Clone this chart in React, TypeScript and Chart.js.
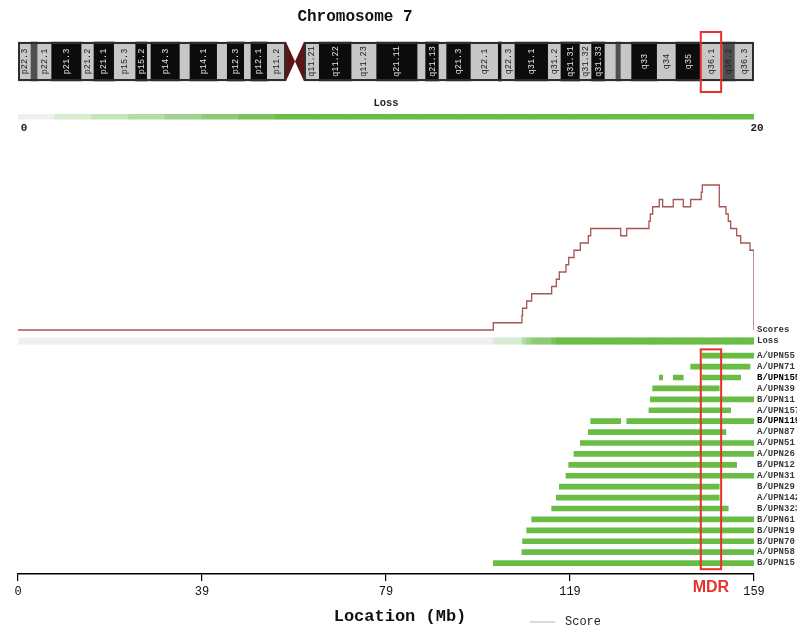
import React, { useEffect, useRef } from 'react';
import { Chart, registerables } from 'chart.js';

Chart.register(...registerables);

// ---------------- data ----------------
const CHR_MAX = 159;
const xTickValues = [0, 39.75, 79.5, 119.25, 159];
const xTickLabels = ['0', '39', '79', '119', '159'];

const bandLabels = ['p22.3', '', 'p22.1', 'p21.3', 'p21.2', 'p21.1', 'p15.3', 'p15.2', '', 'p14.3', '', 'p14.1', '', 'p12.3', '', 'p12.1', 'p11.2', '', '',
  'q11.21', 'q11.22', 'q11.23', 'q21.11', '', 'q21.13', '', 'q21.3', 'q22.1', '', 'q22.3', 'q31.1', 'q31.2', 'q31.31', 'q31.32', 'q31.33', '', '', '',
  'q33', 'q34', 'q35', 'q36.1', 'q36.2', 'q36.3'];
const bandStart = [0, 2.81, 4.26, 7.28, 13.76, 16.42, 20.80, 25.43, 27.93, 28.73, 35.00, 37.16, 43.05, 45.21, 48.89, 50.33, 53.86, 57.90, 59.84,
  61.78, 65.09, 72.09, 77.49, 86.35, 88.07, 90.95, 92.61, 97.86, 103.76, 104.49, 107.37, 114.56, 117.30, 121.41, 123.93, 126.81, 129.18, 130.26,
  132.57, 138.10, 142.15, 147.55, 152.24, 154.90];
const bandEnd = [2.81, 4.26, 7.28, 13.76, 16.42, 20.80, 25.43, 27.93, 28.73, 35.00, 37.16, 43.05, 45.21, 48.89, 50.33, 53.86, 57.90, 59.84, 61.78,
  65.09, 72.09, 77.49, 86.35, 88.07, 90.95, 92.61, 97.86, 103.76, 104.49, 107.37, 114.56, 117.30, 121.41, 123.93, 126.81, 129.18, 130.26, 132.57,
  138.10, 142.15, 147.55, 152.24, 154.90, 159];
const bandStain = ['light', 'gray', 'light', 'dark', 'light', 'dark', 'light', 'dark', 'light', 'dark', 'light', 'dark', 'light', 'dark', 'light', 'dark', 'light', 'acen', 'acen',
  'light', 'dark', 'light', 'dark', 'light', 'dark', 'light', 'dark', 'light', 'dark', 'light', 'dark', 'light', 'dark', 'light', 'dark', 'light', 'gray', 'light',
  'dark', 'light', 'dark', 'light', 'gray', 'light'];

const legendCells = [0, 1, 2, 3, 4, 5, 6, 7, 8, 9, 10, 11, 12, 13, 14, 15, 16, 17, 18, 19];
const legendMax = 20;

const scoreStart = [0, 102.68, 108.86, 109.0, 109.89, 110.97, 115.29, 116.29, 116.94, 118.38, 118.97, 120.11, 121.47, 123.2, 123.72, 130.2, 131.5,
  136.31, 136.6, 137.11, 138.54, 139.27, 141.56, 143.72, 145.32, 147.6, 147.83, 151.5, 152.94, 153.44, 153.96, 155.26, 156.12, 158.13, 159];
const scoreValue = [0, 1, 2, 3, 4, 5, 6, 7, 8, 9, 10, 11, 12, 13, 14, 13, 14,
  15, 16, 17, 18, 17, 18, 17, 18, 19, 20, 17, 16, 15, 14, 13, 12, 11, 0];

const sampleLabels = ['A/UPN55', 'A/UPN71', 'B/UPN155', 'A/UPN39', 'B/UPN11', 'A/UPN157', 'B/UPN119', 'A/UPN87', 'A/UPN51', 'A/UPN26',
  'B/UPN12', 'A/UPN31', 'B/UPN29', 'A/UPN142', 'B/UPN323', 'B/UPN61', 'B/UPN19', 'B/UPN70', 'A/UPN58', 'B/UPN15'];
const sampleEmphasis = [false, false, true, false, false, false, true, false, false, false,
  false, false, false, false, false, false, false, false, false, false];
const lossSegments: number[][][] = [
  [[147.83, 159]],
  [[145.32, 158.13]],
  [[138.54, 139.27], [141.56, 143.72], [147.83, 156.12]],
  [[137.11, 151.5]],
  [[136.6, 159]],
  [[136.31, 153.96]],
  [[123.72, 130.2], [131.5, 159]],
  [[123.2, 152.94]],
  [[121.47, 159]],
  [[120.11, 159]],
  [[118.97, 155.26]],
  [[118.38, 159]],
  [[116.94, 151.5]],
  [[116.29, 151.5]],
  [[115.29, 153.44]],
  [[110.97, 159]],
  [[109.89, 159]],
  [[109.0, 159]],
  [[108.86, 159]],
  [[102.68, 159]],
];

const mdrStart = 147.5;
const mdrEnd = 151.9;

// ---------------- styles ----------------
const MONO = '"Liberation Mono", "DejaVu Sans Mono", monospace';
const stainColor: Record<string, string> = { light: '#c7c7c7', dark: '#0c0c0c', gray: '#4f4f4f', acen: 'rgba(0,0,0,0)' };
const stainText: Record<string, string> = { light: '#1c1c1c', dark: '#e4e4e4', gray: '#1c1c1c', acen: '#000' };
const lossPalette = ['#efefef', '#d7ecd0', '#c6e4ba', '#b3dba3', '#9fd28c', '#8ccb76', '#78c35e', '#69bd45'];
const GREEN = '#69bd45';
const RED = '#e8312b';
const IDEO_THICK = 39;
const RIGHT_GUTTER = 43;

const paletteFor = (v: number) => lossPalette[Math.min(v, lossPalette.length - 1)];

const rightAxis = (weight: number, extra: any = {}) => ({
  type: 'linear',
  axis: 'y',
  position: 'right',
  stack: 'tracks',
  stackWeight: weight,
  offset: false,
  grid: { display: false, drawTicks: false, offset: false },
  border: { display: false },
  ticks: { display: false },
  afterFit: (s: any) => { s.width = RIGHT_GUTTER; },
  ...extra,
});

const trackLabelTicks = (label: string) => ({
  display: true,
  padding: 3,
  autoSkip: false,
  color: '#333',
  font: { family: MONO, size: 9, weight: 'bold' },
  callback: () => label,
});

const decorations = {
  id: 'decorations',
  afterDatasetsDraw(chart: any) {
    const { ctx, chartArea, scales } = chart;
    const xs = scales.x;
    const yIdeo = scales.yIdeo;
    const yLeg = scales.yLeg;
    const xLeg = scales.xLeg;
    const yRows = scales.yRows;
    const midX = (chartArea.left + chartArea.right) / 2;

    ctx.save();
    // ---- ideogram ----
    const cy = yIdeo.getPixelForValue(0);
    const top = cy - IDEO_THICK / 2;
    const bottom = cy + IDEO_THICK / 2;
    const acen = bandStain.map((s, i) => (s === 'acen' ? i : -1)).filter((i) => i >= 0);
    const cenStart = xs.getPixelForValue(bandStart[acen[0]]);
    const cenMid = xs.getPixelForValue(bandEnd[acen[0]]);
    const cenEnd = xs.getPixelForValue(bandEnd[acen[acen.length - 1]]);
    const x0 = xs.getPixelForValue(bandStart[0]);
    const x1 = xs.getPixelForValue(bandEnd[bandEnd.length - 1]);

    ctx.fillStyle = '#5b1515';
    ctx.beginPath();
    ctx.moveTo(cenStart, top); ctx.lineTo(cenMid, cy); ctx.lineTo(cenStart, bottom); ctx.closePath(); ctx.fill();
    ctx.beginPath();
    ctx.moveTo(cenEnd, top); ctx.lineTo(cenMid, cy); ctx.lineTo(cenEnd, bottom); ctx.closePath(); ctx.fill();

    ctx.strokeStyle = '#2e2e2e';
    ctx.lineWidth = 2;
    ctx.strokeRect(x0 + 1, top + 1, cenStart - x0 - 2, IDEO_THICK - 2);
    ctx.strokeRect(cenEnd + 1, top + 1, x1 - cenEnd - 2, IDEO_THICK - 2);

    ctx.font = `8.5px ${MONO}`;
    ctx.textAlign = 'center';
    ctx.textBaseline = 'middle';
    bandLabels.forEach((lab, i) => {
      if (!lab) return;
      const bx = (xs.getPixelForValue(bandStart[i]) + xs.getPixelForValue(bandEnd[i])) / 2;
      ctx.save();
      ctx.translate(bx, cy);
      ctx.rotate(-Math.PI / 2);
      ctx.fillStyle = stainText[bandStain[i]];
      ctx.fillText(lab, 0, 0);
      ctx.restore();
    });

    // ---- MDR boxes ----
    const mx0 = xs.getPixelForValue(mdrStart);
    const mx1 = xs.getPixelForValue(mdrEnd);
    ctx.strokeStyle = RED;
    ctx.lineWidth = 2;
    ctx.strokeRect(mx0, yIdeo.top + 1, mx1 - mx0, yIdeo.bottom - yIdeo.top - 1);
    const ry0 = yRows.getPixelForValue(-0.58);
    const ry1 = yRows.getPixelForValue(19.56);
    ctx.strokeRect(mx0, ry0, mx1 - mx0, ry1 - ry0);

    // ---- texts ----
    ctx.fillStyle = '#111';
    ctx.font = `bold 16px ${MONO}`;
    ctx.textAlign = 'center';
    ctx.fillText('Chromosome 7', chartArea.left + 337, 17);

    const legY = yLeg.getPixelForValue(0);
    ctx.font = `bold 10.5px ${MONO}`;
    ctx.fillStyle = '#222';
    ctx.fillText('Loss', midX, legY - 13);
    ctx.font = `bold 11px ${MONO}`;
    ctx.fillText('0', xLeg.getPixelForValue(0) + 6, legY + 11);
    ctx.fillText(String(legendMax), xLeg.getPixelForValue(legendMax) + 3, legY + 11);

    ctx.fillStyle = RED;
    ctx.font = 'bold 16px "Liberation Sans", Arial, sans-serif';
    ctx.fillText('MDR', (mx0 + mx1) / 2, chartArea.bottom + 14);

    ctx.fillStyle = '#111';
    ctx.font = `bold 17px ${MONO}`;
    ctx.fillText('Location (Mb)', midX + 14, chartArea.bottom + 43);

    // legend
    const ly = chartArea.bottom + 48;
    ctx.strokeStyle = '#d8caca';
    ctx.lineWidth = 1.5;
    ctx.beginPath();
    ctx.moveTo(chartArea.right - 224, ly);
    ctx.lineTo(chartArea.right - 199, ly);
    ctx.stroke();
    ctx.fillStyle = '#222';
    ctx.font = `12px ${MONO}`;
    ctx.textAlign = 'left';
    ctx.fillText('Score', chartArea.right - 189, ly);
    ctx.restore();
  },
};

export default function App() {
  const ref = useRef<HTMLCanvasElement>(null);

  useEffect(() => {
    if (!ref.current) return;

    const ideoData = bandStart.map((s, i) => ({ y: 0, x: [s, bandEnd[i]] }));
    const legendData = legendCells.map((c) => ({ y: 0, x: [c, c + 1] }));
    const lossTrack = scoreStart.slice(0, -1).map((s, i) => ({ y: 0, x: [s, scoreStart[i + 1]] }));
    const lossTrackColors = scoreValue.slice(0, -1).map((v) => paletteFor(v));
    const rowData: any[] = [];
    lossSegments.forEach((segs, row) => segs.forEach((seg) => rowData.push({ y: row, x: [seg[0], seg[1]] })));

    const barCommon = { type: 'bar', indexAxis: 'y', grouped: false, borderWidth: 0 };

    const chart = new Chart(ref.current, {
      type: 'bar',
      plugins: [decorations],
      data: {
        datasets: [
          {
            ...barCommon, label: 'ideogram', xAxisID: 'x', yAxisID: 'yIdeo',
            data: ideoData as any, backgroundColor: bandStain.map((s) => stainColor[s]),
            barThickness: IDEO_THICK,
          },
          {
            ...barCommon, label: 'lossScale', xAxisID: 'xLeg', yAxisID: 'yLeg',
            data: legendData as any, backgroundColor: legendCells.map((c) => paletteFor(c)),
            barThickness: 5,
          },
          {
            type: 'line', label: 'Score', indexAxis: 'x', xAxisID: 'x', yAxisID: 'yScore',
            data: scoreStart.map((s, i) => ({ x: s, y: scoreValue[i] })) as any,
            stepped: true, borderColor: '#a65555', borderWidth: 1.3, pointRadius: 0, fill: false,
          },
          {
            ...barCommon, label: 'Loss', xAxisID: 'x', yAxisID: 'yLoss',
            data: lossTrack as any, backgroundColor: lossTrackColors, barThickness: 7,
          },
          {
            ...barCommon, label: 'samples', xAxisID: 'x', yAxisID: 'yRows',
            data: rowData, backgroundColor: GREEN, barThickness: 5,
          },
        ] as any,
      },
      options: {
        responsive: false,
        animation: false,
        events: [],
        layout: { padding: { left: 18, top: 31, right: 0, bottom: 0 } },
        plugins: { legend: { display: false }, tooltip: { enabled: false }, title: { display: false } },
        scales: {
          x: {
            type: 'linear', axis: 'x', position: 'bottom', min: 0, max: CHR_MAX, offset: false,
            grid: { display: true, drawOnChartArea: false, drawTicks: true, tickLength: 7, color: '#000', lineWidth: 1.2, offset: false },
            border: { display: true, color: '#000', width: 1.6 },
            ticks: {
              padding: 4, autoSkip: false, maxRotation: 0, color: '#111',
              font: { family: MONO, size: 12 },
              callback: (_v: any, i: number) => xTickLabels[i],
            },
            afterBuildTicks: (s: any) => { s.ticks = xTickValues.map((v) => ({ value: v })); },
            afterFit: (s: any) => { s.height = 54; },
          },
          xLeg: {
            type: 'linear', axis: 'x', position: 'bottom', min: 0, max: legendMax, display: false, offset: false,
            grid: { offset: false },
          },
          yIdeo: rightAxis(61, { min: -1, max: 1 }),
          yLeg: rightAxis(49.5, { min: -1, max: 1 }),
          yScore: rightAxis(195.75, {
            min: -1, max: 26,
            ticks: trackLabelTicks('Scores'),
            afterBuildTicks: (s: any) => { s.ticks = [{ value: 0 }]; },
          }),
          yLoss: rightAxis(7.52, {
            min: -1, max: 1,
            ticks: trackLabelTicks('Loss'),
            afterBuildTicks: (s: any) => { s.ticks = [{ value: 0 }]; },
          }),
          yRows: rightAxis(229.23, {
            min: -1, max: sampleLabels.length, reverse: true,
            ticks: {
              display: true, padding: 3, autoSkip: false,
              color: (c: any) => (sampleEmphasis[c.index] ? '#000' : '#3a3a3a'),
              font: { family: MONO, size: 9, weight: 'bold' },
              callback: (v: any) => sampleLabels[v],
            },
            afterBuildTicks: (s: any) => { s.ticks = sampleLabels.map((_, i) => ({ value: i })); },
          }),
        } as any,
      },
    } as any);

    return () => chart.destroy();
  }, []);

  return (
    <div style={{ position: 'fixed', left: 0, top: 0, width: 797, height: 628, background: '#fff' }}>
      <canvas ref={ref} width={797} height={628} style={{ display: 'block', width: 797, height: 628 }} />
    </div>
  );
}
